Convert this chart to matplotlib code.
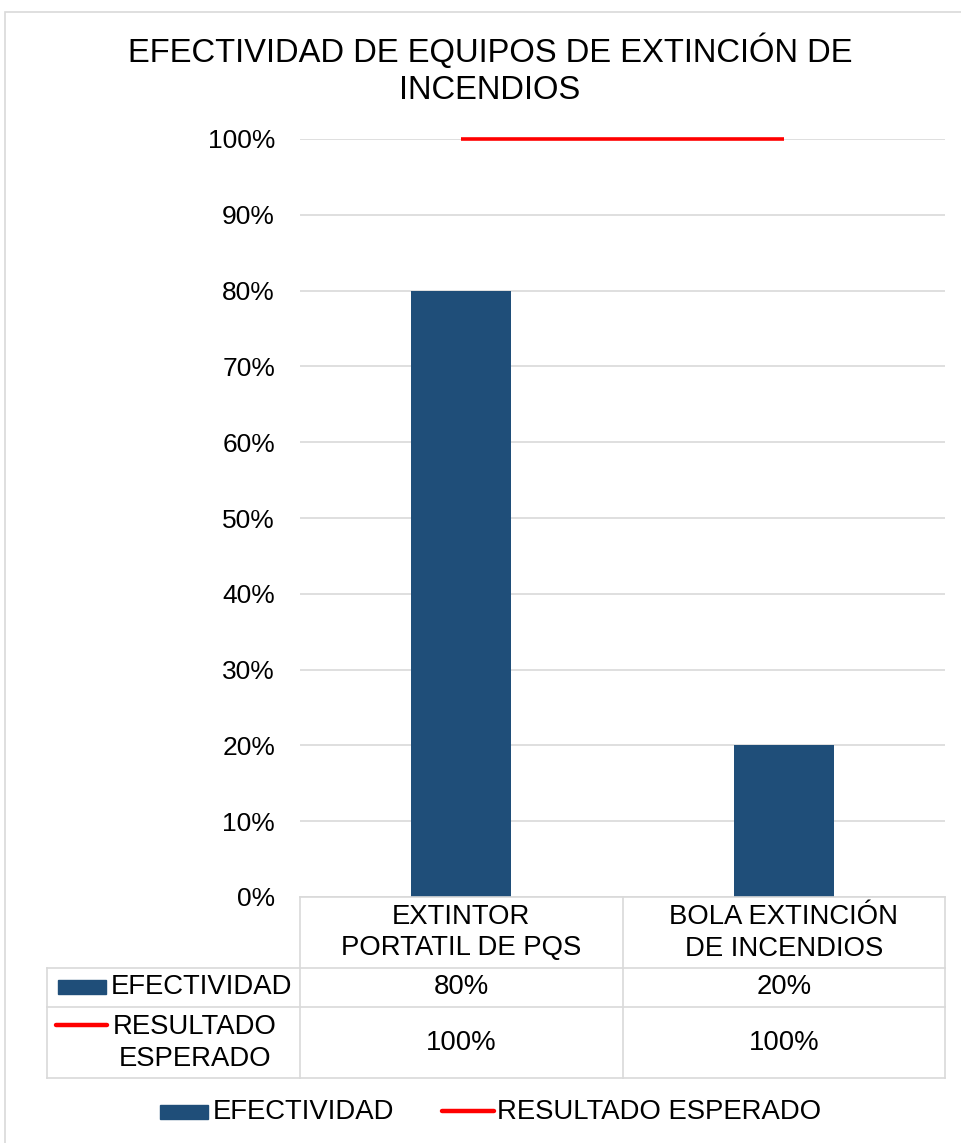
import matplotlib.pyplot as plt
import matplotlib.transforms as mtransforms
from matplotlib.lines import Line2D
from matplotlib.patches import Rectangle
from matplotlib.ticker import PercentFormatter

plt.rcParams['font.family'] = ['Liberation Sans', 'DejaVu Sans']

# Datos del gráfico
categorias = ['EXTINTOR\nPORTATIL DE PQS', 'BOLA EXTINCIÓN\nDE INCENDIOS']
efectividad = [0.80, 0.20]
esperado = [1.00, 1.00]
series = ['EFECTIVIDAD', 'RESULTADO ESPERADO']
etiquetas_filas = ['EFECTIVIDAD', 'RESULTADO\nESPERADO']

AZUL = '#1F4E79'
ROJO = '#FF0000'
GRIS = '#D9D9D9'

W, H = 962, 1143
fig = plt.figure(figsize=(W / 100, H / 100), dpi=100)


def fx(x):
    return x / W


def fy(y):
    return 1 - y / H


# marco exterior del gráfico
fig.add_artist(Rectangle((fx(5), fy(1160)), fx(980) - fx(5), fy(12) - fy(1160),
                         transform=fig.transFigure, fill=False, edgecolor=GRIS, lw=1.2))

ax = fig.add_axes([fx(300), fy(897), fx(945) - fx(300), fy(139) - fy(897)])
x = list(range(len(categorias)))

ax.bar(x, efectividad, width=0.31, color=AZUL, zorder=2)
ax.plot(x, esperado, color=ROJO, lw=2.6, solid_capstyle='butt', zorder=3, clip_on=False)

ax.set_xlim(-0.5, len(categorias) - 0.5)
ax.set_ylim(0, 1)
ax.set_yticks([i / 10 for i in range(11)])
ax.yaxis.set_major_formatter(PercentFormatter(1.0, decimals=0))
ax.tick_params(axis='y', length=0, pad=18, labelsize=19)
ax.set_xticks([])
ax.grid(axis='y', color=GRIS, lw=1.2, zorder=0)
for s in ax.spines.values():
    s.set_visible(False)

fig.text(fx(490), fy(70), 'EFECTIVIDAD DE EQUIPOS DE EXTINCIÓN DE\nINCENDIOS', ha='center', va='center',
         fontsize=23.6, linespacing=1.25)

# tabla de datos bajo el eje
bt = mtransforms.blended_transform_factory(ax.transData, fig.transFigure)
fs = 19.8
y_top, y_r1, y_r2, y_bot = 897, 968, 1007, 1078
for yy, x0 in [(y_top, 300), (y_r1, 47), (y_r2, 47), (y_bot, 47)]:
    fig.add_artist(Line2D([fx(x0), fx(945)], [fy(yy), fy(yy)], transform=fig.transFigure, color=GRIS, lw=1.2))
fig.add_artist(Line2D([fx(47), fx(47)], [fy(y_r1), fy(y_bot)], transform=fig.transFigure, color=GRIS, lw=1.2))
for b in [i - 0.5 for i in range(len(categorias) + 1)]:
    fig.add_artist(Line2D([b, b], [fy(y_top), fy(y_bot)], transform=bt, color=GRIS, lw=1.2))

for i, cat in enumerate(categorias):
    fig.text(x[i], fy((y_top + y_r1) / 2), cat, transform=bt, ha='center', va='center', fontsize=fs, linespacing=1.3)
    fig.text(x[i], fy((y_r1 + y_r2) / 2), f'{efectividad[i]:.0%}', transform=bt, ha='center', va='center', fontsize=fs)
    fig.text(x[i], fy((y_r2 + y_bot) / 2), f'{esperado[i]:.0%}', transform=bt, ha='center', va='center', fontsize=fs)

# claves de las filas
fig.add_artist(Rectangle((fx(58), fy(994)), fx(48), fy(980) - fy(994), transform=fig.transFigure, color=AZUL))
fig.text(fx(111), fy((y_r1 + y_r2) / 2), etiquetas_filas[0], ha='left', va='center', fontsize=fs)
fig.add_artist(Line2D([fx(56), fx(107)], [fy(1025), fy(1025)], transform=fig.transFigure, color=ROJO, lw=3.2,
                      solid_capstyle='round'))
fig.text(fx(195), fy((y_r2 + y_bot) / 2), etiquetas_filas[1], ha='center', va='center', fontsize=fs, linespacing=1.3)

# leyenda inferior
fig.add_artist(Rectangle((fx(160), fy(1119)), fx(48), fy(1105) - fy(1119), transform=fig.transFigure, color=AZUL))
fig.text(fx(213), fy(1112), series[0], ha='left', va='center', fontsize=fs)
fig.add_artist(Line2D([fx(442), fx(494)], [fy(1111), fy(1111)], transform=fig.transFigure, color=ROJO, lw=3.2,
                      solid_capstyle='round'))
fig.text(fx(497), fy(1112), series[1], ha='left', va='center', fontsize=fs)

fig.savefig('out.png', dpi=100)
